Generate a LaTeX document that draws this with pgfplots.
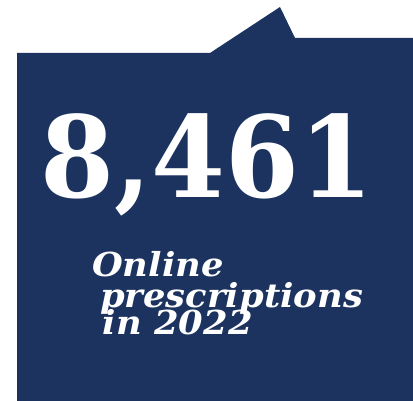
\documentclass[border=0pt]{standalone}
\usepackage{pgfplots}
\pgfplotsset{compat=1.18}
\usepackage{fontspec}
\setmainfont{DejaVu Serif}
\definecolor{navy}{HTML}{1C3360}

\begin{document}
\begin{tikzpicture}
\begin{axis}[
    width=413bp, height=401bp, scale only axis,
    xmin=0, xmax=413, ymin=0, ymax=401,
    hide axis, clip=false,
  ]
  % panel outline, in pixels from the top-left (y = 401 - row);
  % it runs past the right and bottom edges so that it meets them
  \addplot[fill=navy, draw=none] coordinates {
    (17,-10) (17,348) (210,348) (280,394) (295,363) (425,363) (425,-10) (17,-10)
  };

  \node[anchor=base, text=white, font=\fontsize{113bp}{113bp}\selectfont\bfseries, xscale=0.94]
    at (axis cs:207,203) {8,461};

  % three tightly set lines, each a little further in
  \node[anchor=north west, text=white, align=left, inner sep=0pt, xscale=1.07,
        font=\fontsize{33bp}{31bp}\selectfont\bfseries\itshape]
    at (axis cs:92,150)
    {Online\\ \hspace*{7.5bp}prescriptions\\[-6bp] \hspace*{10bp}in 2022};
\end{axis}
% the page is exactly the panel's frame
\pgfresetboundingbox
\path[use as bounding box] (0,0) rectangle (413bp,401bp);
\end{tikzpicture}
\end{document}
